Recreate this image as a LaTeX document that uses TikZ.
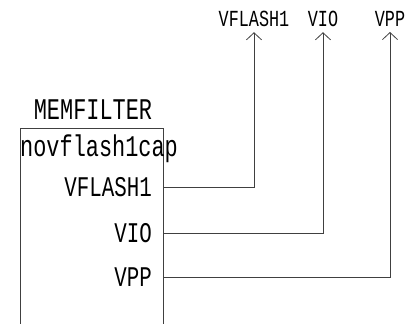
\documentclass[tikz,border=0pt]{standalone}
\usepackage{fontspec}
\newfontfamily\schfont[FakeStretch=0.73]{Liberation Mono}
\usetikzlibrary{arrows.meta}
\tikzstyle{net} = [draw=black!75,line width=0.8pt]
\tikzstyle{sig} = [net,-{Straight Barb[length=7pt,width=15pt]}]
\tikzstyle{pinlbl} = [inner sep=0pt,anchor=east,font=\schfont\fontsize{28.5}{28.5}\selectfont]
\tikzstyle{toplbl} = [inner sep=0pt,outer sep=5pt,anchor=base,font=\schfont\fontsize{23}{23}\selectfont]

\begin{document}
\begin{tikzpicture}[x=1pt,y=-1pt]
  \useasboundingbox (0,0) rectangle (408,324);
  % symbol body (open at the bottom of the sheet)
  \draw[net] (20,324) -- (20,128) -- (163,128) -- (163,324);
  \node[inner sep=0pt,font=\schfont\fontsize{30}{30}\selectfont] (cell) at (93,110) {MEMFILTER};
  \node[inner sep=0pt,anchor=base west,font=\schfont\fontsize{30}{30}\selectfont] (inst) at (20,157) {novflash1cap};
  % pins
  \coordinate (p1) at (163,187);
  \coordinate (p2) at (163,233);
  \coordinate (p3) at (163,277);
  \node[pinlbl] (l1) at (152,187) {VFLASH1};
  \node[pinlbl] (l2) at (152,233) {VIO};
  \node[pinlbl] (l3) at (152,277) {VPP};
  % net names
  \node[toplbl] (v1) at (254,27) {VFLASH1};
  \node[toplbl] (v2) at (323,27) {VIO};
  \node[toplbl] (v3) at (390,27) {VPP};
  % wires
  \draw[sig] (p1) -| (v1.south);
  \draw[sig] (p2) -| (v2.south);
  \draw[sig] (p3) -| (v3.south);
\end{tikzpicture}
\end{document}
